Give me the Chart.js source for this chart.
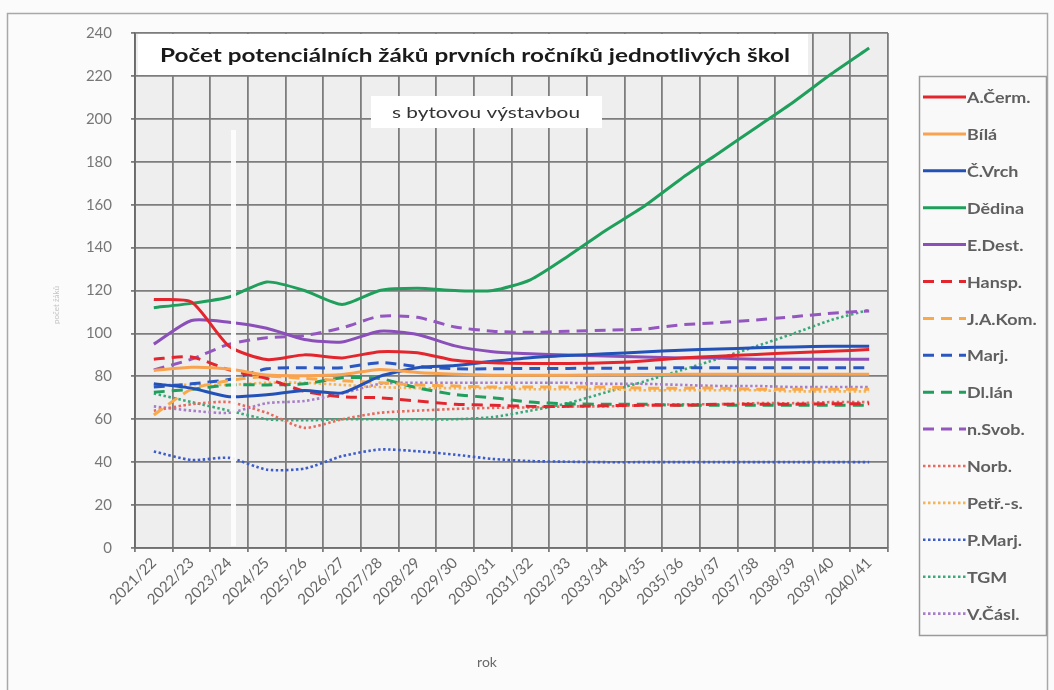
<!DOCTYPE html>
<html><head><meta charset="utf-8">
<script src="https://cdn.jsdelivr.net/npm/chart.js@4.4.0/dist/chart.umd.min.js"></script>
<style>html,body{margin:0;padding:0;background:#fbfbfb;overflow:hidden}#wrap{width:1054px;height:690px}</style>
</head><body><div id="wrap"><canvas id="c" width="1054" height="690"></canvas></div>
<script>
const categories = ["2021/22","2022/23","2023/24","2024/25","2025/26","2026/27","2027/28","2028/29","2029/30","2030/31","2031/32","2032/33","2033/34","2034/35","2035/36","2036/37","2037/38","2038/39","2039/40","2040/41"];
const yTicks = [0,20,40,60,80,100,120,140,160,180,200,220,240];
const seriesNames = ["A.Čerm.","Bílá","Č.Vrch","Dědina","E.Dest.","Hansp.","J.A.Kom.","Marj.","Dl.lán","n.Svob.","Norb.","Petř.-s.","P.Marj.","TGM","V.Čásl."];
const aCerm  = [115.8,114.6,94,87.8,90,88.6,91.5,91,87.5,86.3,86,86,86.3,87.2,88.5,89.4,90.2,91,91.7,92.5];
const bila   = [82.7,84.2,83.4,80.6,80.3,80.8,83.2,81.8,81,80.5,80.5,80.5,80.7,80.8,81,81,81,81,81,81];
const cVrch  = [76.5,74.5,70.5,71.4,73.4,72.3,80,84,85,87,88.7,89.7,90.5,91.3,92.2,92.7,93.3,93.7,94,94];
const dedina = [112,114,117,124,120,113.5,120,121,120,120,125,136,148,159,172,184,196,208,221,233];
const eDest  = [95,106,105.2,102.4,97.2,96,101,99.5,94.2,91.5,90.5,90,89.5,89,88.5,88.5,88,88,88,88];
const hansp  = [88,89,83,79,73,70.5,70,68.5,67,66.5,66,66,66.3,66.5,66.5,67,67,67,67.2,67.2];
const jaKom  = [62,74,78,80,79,78,77,76,75.5,75,75,75,75,74.5,74.5,74.5,74,74,74,74];
const marj   = [75,76.5,78.5,83.5,84,84,86.4,84.6,83.5,83.5,83.7,83.7,83.8,83.8,84,84,84,84,84,84];
const dlLan  = [72.6,74,76,76,76.5,79.3,79,74.6,71.5,70,68,67.2,67,67,66.5,66.5,66.5,66.5,66.5,66.5];
const nSvob  = [83,88,95,98,99,102.6,108,107.5,103,101,100.5,101,101.5,102,104,105,106.3,107.8,109.4,110.5];
const norb   = [64,67,68,63,56,60,63,64,64.8,65.3,65.5,66,66,66.5,67,67,67.5,67.5,68,68];
const petrS  = [76,76,76,77,77,76,75,74.5,74.5,74.5,74,74,74,73.5,73.5,73.5,73.5,73,73,73];
const pMarj  = [45,41,42,36.5,37,42.8,45.9,45.1,43.5,41.5,40.5,40.2,40,40,40,40,40,40,40,40];
const tgm    = [72,68,64,60,59.5,60,60,60,60,61,64,67.5,72.5,77.5,82.8,88.3,94,100,106.3,111];
const vCasl  = [66,64,63,67.5,68.5,72,76.5,77,77,77,77,77,76.5,76.5,76,75.5,75.5,75,75,75];
const seriesValues = [aCerm,bila,cVrch,dedina,eDest,hansp,jaKom,marj,dlLan,nSvob,norb,petrS,pMarj,tgm,vCasl];

const colors = ['#e3262e','#f9a350','#2251b8','#1f9f5b','#8a4fb8','#e3262e','#f9a94a','#2a57c0','#1f9f5b','#9457c0','#e86a5e','#f5b455','#3d5cc8','#3aa97a','#a77cc8'];
const styles = ['s','s','s','s','s','d','d','d','d','d','o','o','o','o','o'];

const datasets = seriesNames.map((n,i)=>{
  const st = styles[i];
  return {
    label:n, data:seriesValues[i], borderColor:colors[i], backgroundColor:colors[i],
    borderWidth: st==='o'?2.6:3,
    borderDash: st==='d'?[11,7]:(st==='o'?[2.5,2.5]:[]),
    pointRadius:0, pointHoverRadius:0, tension:0.22, fill:false
  };
});
const PLOT = {left:135, right:888, top:33, bottom:548};

function fitText(ctx, text, x, y, targetW){
  const w = ctx.measureText(text).width;
  const sx = targetW / w;
  ctx.save(); ctx.translate(x,y); ctx.scale(sx,1); ctx.fillText(text,0,0); ctx.restore();
}

const decor = {
  id:'decor',
  beforeDraw(chart){
    const ctx=chart.ctx, a=chart.chartArea;
    ctx.save();
    ctx.fillStyle='#fbfbfb'; ctx.fillRect(0,0,chart.width,chart.height);
    ctx.strokeStyle='#a8a8a8'; ctx.lineWidth=1.5;
    ctx.strokeRect(7.5,13.5,1040,700);
    ctx.fillStyle='#eeeeee'; ctx.fillRect(a.left,a.top,a.right-a.left,a.bottom-a.top);
    ctx.restore();
  },
  beforeDatasetsDraw(chart){
    const ctx=chart.ctx, a=chart.chartArea;
    ctx.save();
    ctx.fillStyle='#ffffff';
    ctx.fillRect(a.left+3, a.top+1, 808-(a.left+3), 41);
    ctx.fillRect(371, 96, 231, 32);
    ctx.font='bold 19px Lato';
    ctx.fillStyle='#1a1a1a'; ctx.textAlign='center'; ctx.textBaseline='middle';
    fitText(ctx,'Počet potenciálních žáků prvních ročníků jednotlivých škol',475,56,630);
    ctx.font='16px Lato'; ctx.fillStyle='#333';
    fitText(ctx,'s bytovou výstavbou',486,113,188);
    ctx.restore();
  },
  afterDatasetsDraw(chart){
    const ctx=chart.ctx;
    ctx.save();
    ctx.fillStyle='rgba(252,252,252,0.95)';
    ctx.fillRect(231,130,5,416);
    ctx.restore();
  },
  afterDraw(chart){
    const ctx=chart.ctx;
    ctx.save();
    ctx.fillStyle='#f9f9f9'; ctx.fillRect(919,76,127,559);
    ctx.strokeStyle='#9a9a9a'; ctx.lineWidth=1.5; ctx.strokeRect(919.5,76.5,127,559);
    chart.data.datasets.forEach((ds,i)=>{
      const y=97+i*36.9;
      ctx.strokeStyle=ds.borderColor; ctx.lineWidth=ds.borderWidth; ctx.setLineDash(ds.borderDash||[]);
      ctx.beginPath(); ctx.moveTo(923,y); ctx.lineTo(966,y); ctx.stroke();
      ctx.setLineDash([]);
      ctx.fillStyle='#5f5f5f'; ctx.font='bold 16px Lato'; ctx.textAlign='left'; ctx.textBaseline='middle';
      ctx.save(); ctx.translate(967,y+1); ctx.scale(1.12,1); ctx.fillText(ds.label,0,0); ctx.restore();
    });
    ctx.fillStyle='#6a6a6a'; ctx.font='14px Lato'; ctx.textAlign='center'; ctx.textBaseline='middle';
    ctx.fillText('rok',487,662);
    ctx.translate(56,305); ctx.rotate(-Math.PI/2);
    ctx.fillStyle='#c4c4c4'; ctx.font='8px Lato';
    ctx.fillText('počet žáků',0,0);
    ctx.restore();
  }
};

new Chart(document.getElementById('c'),{
  type:'line',
  data:{labels:categories, datasets},
  options:{
    responsive:false, animation:false, devicePixelRatio:1,
    layout:{padding:{left:0,top:PLOT.top,right:1054-PLOT.right,bottom:0}},
    plugins:{legend:{display:false}, tooltip:{enabled:false}, title:{display:false}},
    scales:{
      x:{
        offset:true,
        grid:{offset:true, color:'#7d7d7d', lineWidth:1.8, drawTicks:true, tickLength:4},
        border:{color:'#6f6f6f', width:1.8},
        ticks:{autoSkip:false, minRotation:45, maxRotation:45, color:'#666', font:{family:'Lato', size:15}, padding:2},
        afterFit(s){ s.height = 690 - PLOT.bottom; }
      },
      y:{
        min:0, max:240,
        afterBuildTicks(s){ s.ticks = yTicks.map(v=>({value:v})); },
        grid:{color:'#7d7d7d', lineWidth:1.8, tickLength:4},
        border:{color:'#6a6a6a', width:1.8},
        ticks:{color:'#777', font:{family:'Lato', size:15}, padding:19},
        afterFit(s){ s.width = PLOT.left; }
      }
    }
  },
  plugins:[decor]
});
</script></body></html>
